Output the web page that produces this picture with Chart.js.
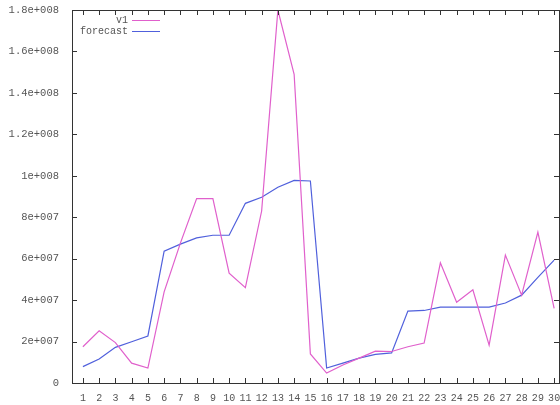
<!DOCTYPE html>
<html>
<head>
<meta charset="utf-8">
<script src="https://cdn.jsdelivr.net/npm/chart.js@4.4.0/dist/chart.umd.min.js"></script>
<style>
  html,body{margin:0;padding:0;background:#fff;}
  #wrap{position:relative;width:560px;height:405px;}
</style>
</head>
<body>
<div id="wrap"><canvas id="myChart"></canvas></div>
<script>
// data
const days = [1,2,3,4,5,6,7,8,9,10,11,12,13,14,15,16,17,18,19,20,21,22,23,24,25,26,27,28,29,30];
const v1 = [1.75e7,2.52e7,1.95e7,0.96e7,0.72e7,4.4e7,6.75e7,8.9e7,8.9e7,5.3e7,4.6e7,8.3e7,1.8e8,1.49e8,1.4e7,0.48e7,0.87e7,1.2e7,1.54e7,1.52e7,1.75e7,1.93e7,5.8e7,3.9e7,4.5e7,1.83e7,6.17e7,4.24e7,7.28e7,3.6e7];
const forecast = [0.79e7,1.16e7,1.72e7,1.99e7,2.27e7,6.36e7,6.7e7,7.0e7,7.13e7,7.13e7,8.67e7,8.96e7,9.45e7,9.78e7,9.75e7,0.72e7,0.96e7,1.2e7,1.38e7,1.45e7,3.47e7,3.5e7,3.66e7,3.66e7,3.66e7,3.66e7,3.86e7,4.24e7,5.1e7,5.93e7];
const yTicks = [0,2e7,4e7,6e7,8e7,1e8,1.2e8,1.4e8,1.6e8,1.8e8];

const FONT = "'Liberation Mono', 'DejaVu Sans Mono', monospace";
const INK = '#555';

function gnuExp(v){
  if(v===0) return '0';
  let s=v.toExponential();
  let [m,e]=s.split('e');
  let sign=e[0]==='-'?'-':'+';
  e=e.replace(/[+-]/,'');
  while(e.length<3) e='0'+e;
  return m+'e'+sign+e;
}

// gnuplot style border with inward ticks + legend
const gnuFrame = {
  id:'gnuFrame',
  afterDatasetsDraw(chart){
    const {ctx, chartArea:a, scales} = chart;
    ctx.save();
    ctx.strokeStyle = '#333';
    ctx.lineWidth = 1;
    ctx.strokeRect(Math.round(a.left)+0.5, Math.round(a.top)+0.5, Math.round(a.right-a.left), Math.round(a.bottom-a.top));
    ctx.beginPath();
    scales.x.ticks.forEach(t=>{
      const px = Math.round(scales.x.getPixelForValue(t.value))+0.5;
      ctx.moveTo(px,a.bottom); ctx.lineTo(px,a.bottom-5);
      ctx.moveTo(px,a.top); ctx.lineTo(px,a.top+5);
    });
    scales.y.ticks.forEach(t=>{
      const py = Math.round(scales.y.getPixelForValue(t.value))+0.5;
      ctx.moveTo(a.left,py); ctx.lineTo(a.left+5,py);
      ctx.moveTo(a.right,py); ctx.lineTo(a.right-5,py);
    });
    ctx.stroke();
    // key
    ctx.font = '10px '+FONT;
    ctx.fillStyle = INK;
    ctx.textAlign = 'right';
    ctx.textBaseline = 'middle';
    chart.data.datasets.forEach((ds,i)=>{
      const y = a.top + 10 + i*11;
      ctx.fillText(ds.label, 128, y);
      ctx.strokeStyle = ds.borderColor;
      ctx.beginPath();
      ctx.moveTo(132,y+0.5); ctx.lineTo(160,y+0.5);
      ctx.stroke();
    });
    ctx.restore();
  }
};

const ctx = document.getElementById('myChart').getContext('2d');
const myChart = new Chart(ctx, {
  type:'line',
  data:{
    labels:days,
    datasets:[
      {label:'v1', data:days.map((d,i)=>({x:d,y:v1[i]})), borderColor:'#e060cc', borderWidth:1.2, pointRadius:0, tension:0},
      {label:'forecast', data:days.map((d,i)=>({x:d,y:forecast[i]})), borderColor:'#5060dc', borderWidth:1.2, pointRadius:0, tension:0}
    ]
  },
  options:{
    responsive:true,
    maintainAspectRatio:false,
    animation:false,
    layout:{padding:{left:0,right:1,top:10,bottom:0}},
    plugins:{legend:{display:false},tooltip:{enabled:false}},
    scales:{
      x:{
        type:'linear',
        min:0.33,
        max:30.3,
        afterBuildTicks(scale){ scale.ticks = days.map(d=>({value:d})); },
        afterFit(scale){ scale.height = 22; scale.paddingRight = 0; scale.paddingLeft = 0; },
        grid:{display:false},
        border:{display:false},
        ticks:{color:INK,font:{family:FONT,size:10},padding:1,maxRotation:0,autoSkip:false,callback:v=>String(v)}
      },
      y:{
        min:0,
        max:1.8e8,
        afterBuildTicks(scale){ scale.ticks = yTicks.map(v=>({value:v})); },
        afterFit(scale){ scale.width = 72; scale.paddingTop = 0; scale.paddingBottom = 0; },
        grid:{display:false},
        border:{display:false},
        ticks:{color:INK,font:{family:FONT,size:10.5},padding:5,callback:v=>gnuExp(v)}
      }
    }
  },
  plugins:[gnuFrame]
});
</script>
</body>
</html>
